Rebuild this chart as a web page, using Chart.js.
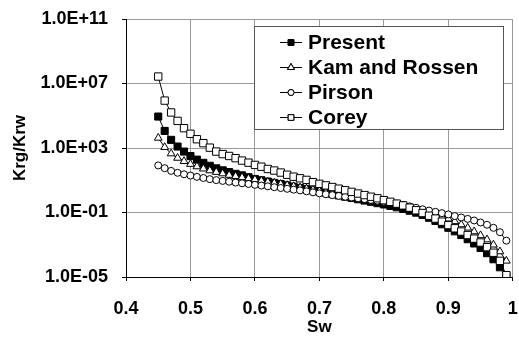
<!DOCTYPE html>
<html>
<head>
<meta charset="utf-8">
<script src="https://cdn.jsdelivr.net/npm/chart.js@4.4.0/dist/chart.umd.min.js"></script>
<style>
  html, body { margin: 0; padding: 0; background: #fff; }
  #wrap { width: 519px; height: 338px; }
</style>
</head>
<body>
<div id="wrap"><canvas id="chart" width="519" height="338"></canvas></div>
<script>
// water saturation
const sw = [0.45, 0.46, 0.47, 0.48, 0.49, 0.50, 0.51, 0.52, 0.53, 0.54,
            0.55, 0.56, 0.57, 0.58, 0.59, 0.60, 0.61, 0.62, 0.63, 0.64,
            0.65, 0.66, 0.67, 0.68, 0.69, 0.70, 0.71, 0.72, 0.73, 0.74,
            0.75, 0.76, 0.77, 0.78, 0.79, 0.80, 0.81, 0.82, 0.83, 0.84,
            0.85, 0.86, 0.87, 0.88, 0.89, 0.90, 0.91, 0.92, 0.93, 0.94,
            0.95, 0.96, 0.97, 0.98, 0.99];

// Krg/Krw per model
const present = [8.9e4, 1.15e4, 3.2e3, 1.23e3, 600, 316, 190, 120, 79, 55,
                 41, 32, 25, 20, 15.5, 12, 10, 8.3, 6.9, 5.8,
                 4.8, 4.0, 3.3, 2.8, 2.35, 2.0, 1.66, 1.38, 1.15, 0.95,
                 0.79, 0.66, 0.55, 0.46, 0.38, 0.316, 0.257, 0.21, 0.166, 0.129,
                 0.098, 0.071, 0.047, 0.03, 0.0186, 0.0112, 0.0068, 0.004, 0.0022, 0.0012,
                 6.3e-4, 3.0e-4, 1.26e-4, 4.0e-5, 1.1e-5];
const kamRossen = [4.2e3, 1.12e3, 450, 240, 151, 100, 71, 52, 40, 32,
                   26, 21, 17.8, 15.1, 12.9, 11, 9.3, 7.9, 6.8, 5.8,
                   4.9, 4.2, 3.5, 3.0, 2.6, 2.2, 1.86, 1.58, 1.35, 1.15,
                   0.98, 0.83, 0.71, 0.6, 0.51, 0.43, 0.355, 0.295, 0.245, 0.2,
                   0.162, 0.129, 0.1, 0.076, 0.056, 0.041, 0.028, 0.018, 0.0112, 0.0066,
                   0.0038, 0.0021, 0.001, 3.8e-4, 1.0e-4];
const pirson = [83, 56, 38, 29, 23.4, 19.5, 16.2, 13.8, 11.7, 10.2,
                9.1, 8.1, 7.2, 6.5, 5.9, 5.2, 4.7, 4.2, 3.7, 3.3,
                2.95, 2.6, 2.35, 2.05, 1.78, 1.55, 1.35, 1.2, 1.07, 0.95,
                0.85, 0.76, 0.68, 0.6, 0.54, 0.47, 0.41, 0.355, 0.295, 0.24,
                0.195, 0.158, 0.132, 0.11, 0.091, 0.076, 0.06, 0.049, 0.04, 0.032,
                0.024, 0.0174, 0.0112, 0.006, 0.0018];
const corey = [2.7e7, 8.7e5, 1.6e5, 4.8e4, 1.7e4, 7.6e3, 3.5e3, 2.0e3, 1.05e3, 600,
               420, 320, 234, 166, 123, 89, 69, 50, 40, 30,
               22, 16.6, 13.2, 10.5, 7.6, 6.0, 4.8, 3.8, 3.0, 2.4,
               1.9, 1.5, 1.2, 0.95, 0.76, 0.58, 0.46, 0.355, 0.275, 0.2,
               0.138, 0.093, 0.063, 0.042, 0.027, 0.0166, 0.0105, 0.0066, 0.004, 0.0024,
               0.00138, 7.1e-4, 3.2e-4, 1.0e-4, 1.3e-5];

const seriesNames = ['Present', 'Kam and Rossen', 'Pirson', 'Corey'];

const xTicks = [0.4, 0.5, 0.6, 0.7, 0.8, 0.9, 1];
const xTickLabels = ['0.4', '0.5', '0.6', '0.7', '0.8', '0.9', '1'];
const yTicks = [1e-5, 1e-1, 1e3, 1e7, 1e11];
const yTickLabels = ['1.0E-05', '1.0E-01', '1.0E+03', '1.0E+07', '1.0E+11'];

const FONT = '"Liberation Sans", Arial, sans-serif';

function pairs(values) {
    return values.map((v, i) => ({ x: sw[i], y: v }));
}

function series(label, values, style, fill, radius, order) {
    return {
        label: label,
        data: pairs(values),
        borderColor: '#000',
        borderWidth: 1,
        pointStyle: style,
        pointRadius: radius,
        pointBackgroundColor: fill,
        pointBorderColor: '#000',
        pointBorderWidth: 1,
        tension: 0,
        order: order
    };
}

// legend drawn as a framed box inside the plot, like the original
const legendBox = {
    id: 'legendBox',
    afterDatasetsDraw(chart) {
        const ctx = chart.ctx;
        ctx.save();
        ctx.fillStyle = '#fff';
        ctx.strokeStyle = '#555';
        ctx.lineWidth = 1;
        ctx.fillRect(254.5, 26.5, 249, 103);
        ctx.strokeRect(254.5, 26.5, 249, 103);

        ctx.font = 'bold 21px ' + FONT;
        ctx.textBaseline = 'middle';
        ctx.textAlign = 'left';
        chart.data.datasets.forEach((ds, i) => {
            const y = 42 + i * 25;
            ctx.strokeStyle = '#000';
            ctx.beginPath();
            ctx.moveTo(280, y + 0.5);
            ctx.lineTo(302, y + 0.5);
            ctx.stroke();
            Chart.helpers.drawPoint(ctx, {
                pointStyle: ds.pointStyle,
                radius: ds.pointStyle === 'circle' ? 3 : 4,
                rotation: 0,
                borderWidth: 1
            }, 291, y + 0.5);
            ctx.fillStyle = ds.pointBackgroundColor;
            ctx.strokeStyle = '#000';
            ctx.fill();
            ctx.stroke();
            ctx.fillStyle = '#000';
            ctx.fillText(ds.label, 308, y + 1);
        });
        ctx.restore();
    }
};

const ctx = document.getElementById('chart').getContext('2d');
new Chart(ctx, {
    type: 'line',
    data: {
        datasets: [
            series(seriesNames[0], present, 'rect', '#000', 5, 4),
            series(seriesNames[1], kamRossen, 'triangle', '#fff', 4.5, 3),
            series(seriesNames[2], pirson, 'circle', '#fff', 3.5, 2),
            series(seriesNames[3], corey, 'rect', '#fff', 5.2, 1)
        ]
    },
    options: {
        responsive: false,
        animation: false,
        devicePixelRatio: 1,
        layout: { padding: { top: 19, right: 1, left: 0, bottom: 0 } },
        plugins: {
            legend: { display: false },
            tooltip: { enabled: false }
        },
        scales: {
            x: {
                type: 'linear',
                min: 0.4,
                max: 1,
                afterBuildTicks: scale => { scale.ticks = xTicks.map(v => ({ value: v })); },
                afterFit: scale => { scale.height = 61; scale.paddingLeft = 0; scale.paddingRight = 0; },
                ticks: {
                    color: '#000',
                    font: { family: FONT, size: 18, weight: 'bold' },
                    padding: 17,
                    maxRotation: 0,
                    autoSkip: false,
                    callback: (v, i) => xTickLabels[i]
                },
                grid: { color: '#9a9a9a', tickColor: '#000', tickLength: 4, lineWidth: 1 },
                border: { color: '#000', width: 1 },
                title: {
                    display: true,
                    text: 'Sw',
                    color: '#000',
                    font: { family: FONT, size: 17, weight: 'bold' },
                    padding: { top: 0, bottom: 0 }
                }
            },
            y: {
                type: 'logarithmic',
                min: 1e-5,
                max: 1e11,
                afterBuildTicks: scale => { scale.ticks = yTicks.map(v => ({ value: v })); },
                afterFit: scale => { scale.width = 126; scale.paddingTop = 0; scale.paddingBottom = 0; },
                ticks: {
                    color: '#000',
                    font: { family: FONT, size: 18, weight: 'bold' },
                    padding: 14,
                    autoSkip: false,
                    callback: (v) => yTickLabels[yTicks.indexOf(v)]
                },
                grid: { color: '#9a9a9a', tickColor: '#000', tickLength: 4, lineWidth: 1 },
                border: { color: '#000', width: 1 },
                title: {
                    display: true,
                    text: 'Krg/Krw',
                    color: '#000',
                    font: { family: FONT, size: 17, weight: 'bold' },
                    padding: { top: 10, bottom: 0 }
                }
            }
        }
    },
    plugins: [legendBox]
});
</script>
</body>
</html>
